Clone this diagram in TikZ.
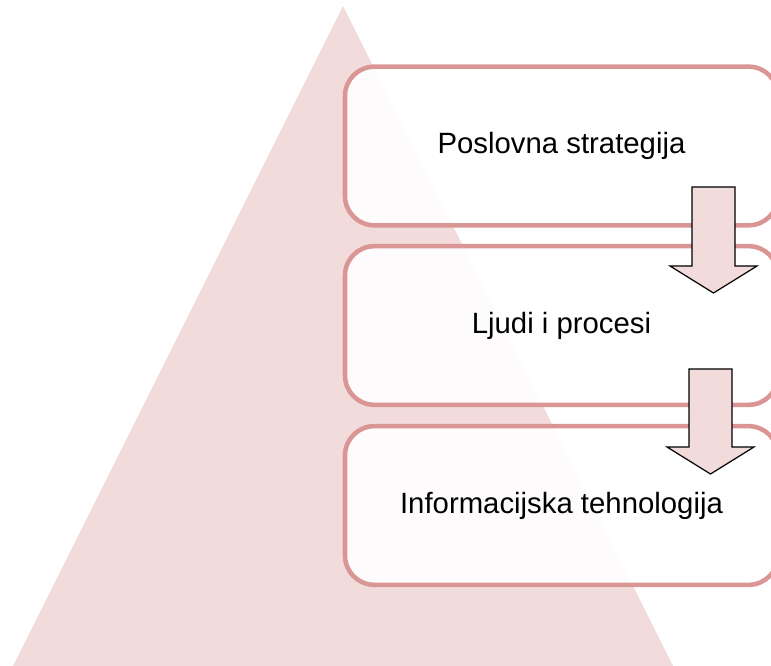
\documentclass[tikz,border=0pt]{standalone}
\usepackage{fontspec}
\setmainfont{Liberation Sans}
\definecolor{pyramidpink}{HTML}{F2DCDB}
\definecolor{boxrose}{HTML}{D99694}
\begin{document}
\begin{tikzpicture}[
        x = 0.75pt, y = -0.75pt,
        level/.style = {draw = boxrose, line width = 3.4pt, rounded corners = 22pt,
          fill = white, fill opacity = 0.9, text opacity = 1,
          minimum width = 324.75pt, minimum height = 119pt, inner sep = 0pt,
          font = \fontsize{22}{26}\selectfont},
        downarrow/.style = {draw = black, line width = 0.9pt, fill = pyramidpink}]
      \useasboundingbox (0, 0) rectangle (771, 666);
      \clip (0, 0) rectangle (771, 666);
      \fill [pyramidpink] (343, 6) -- (673, 666) -- (13, 666) -- cycle;
      \node [level] (strategy) at (561.5, 146) {Poslovna strategija};
      \node [level] (people) at (561.5, 325.5) {Ljudi i procesi};
      \node [level] (tech) at (561.5, 505.5) {Informacijska tehnologija};
      \draw [downarrow, shift = {(713.5, 187)}] (-21.5, 0) -- (21.5, 0) -- (21.5, 79) -- (43.5, 79) -- (0, 106) -- (-43.5, 79) -- (-21.5, 79) -- cycle;
      \draw [downarrow, shift = {(710.5, 369)}] (-21.5, 0) -- (21.5, 0) -- (21.5, 78) -- (43.5, 78) -- (0, 105) -- (-43.5, 78) -- (-21.5, 78) -- cycle;
    \end{tikzpicture}
\end{document}
